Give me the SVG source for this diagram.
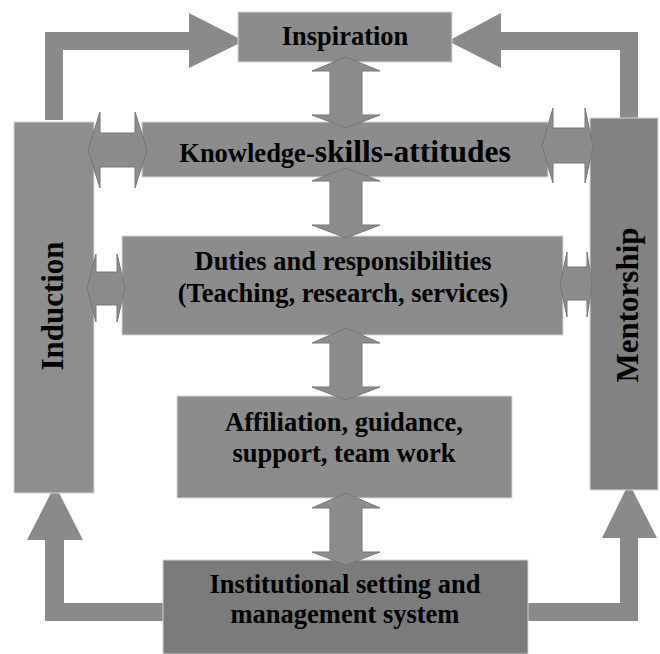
<svg xmlns="http://www.w3.org/2000/svg" width="660" height="654" viewBox="0 0 660 654">
<style>
.box{fill:#8c8c8c;stroke:#d6d6d6;stroke-width:1}
.dark{fill:#7b7b7b}
.mid{fill:#828282}
.conn{fill:#8a8a8a}
.dbl{fill:#8c8c8c;stroke:#777;stroke-width:1}
.t{font-family:"Liberation Serif","Times New Roman",serif;font-weight:bold;fill:#000;text-anchor:middle}
</style>
<rect width="660" height="654" fill="#fff"/>
<g id="connectors-outer">
<path class="conn" d="M45,120 L45,32 L189,32 L189,13 L244,41 L189,68 L189,50 L63,50 L63,120 Z"/>
<path class="conn" d="M638,118 L638,32 L501,32 L501,13 L448,41 L501,68 L501,50 L620,50 L620,118 Z"/>
<path class="conn" d="M170,603 L64,603 L64,540 L83,540 L55,485 L27,540 L45,540 L45,621 L170,621 Z"/>
<path class="conn" d="M523,603 L620,603 L620,538 L602,538 L629,483 L657,538 L638,538 L638,621 L523,621 Z"/>
</g>
<g id="inspiration">
<rect class="box" x="238" y="12" width="214" height="50"/>
<text class="t" x="345" y="45" font-size="26.5">Inspiration</text>
</g>
<g id="knowledge">
<rect class="box" x="142" y="122" width="406" height="55"/>
<text class="t" x="345" y="162"><tspan font-size="26.5">Knowledge-</tspan><tspan font-size="31.5">skills-attitudes</tspan></text>
</g>
<g id="duties">
<rect class="box" x="122" y="236" width="441" height="99"/>
<text class="t" x="343" y="270" font-size="26.5">Duties and responsibilities</text>
<text class="t" x="343" y="302" font-size="26.5">(Teaching, research, services)</text>
</g>
<g id="affiliation">
<rect class="box" x="177" y="396" width="335" height="102"/>
<text class="t" x="344" y="431" font-size="26.5">Affiliation, guidance,</text>
<text class="t" x="344" y="462" font-size="26.5">support, team work</text>
</g>
<g id="institutional">
<rect class="box dark" x="163" y="560" width="365" height="94"/>
<text class="t" x="345" y="593" font-size="26.5">Institutional setting and</text>
<text class="t" x="345" y="623" font-size="26.5">management system</text>
</g>
<g id="induction">
<rect class="box" x="14" y="122" width="80" height="371" style="fill:#8f8f8f"/>
<text class="t" x="63" y="306" font-size="31" transform="rotate(-90 63 306)">Induction</text>
</g>
<g id="mentorship">
<rect class="box mid" x="590" y="118" width="68" height="372"/>
<text class="t" x="638" y="305" font-size="31" transform="rotate(-90 638 305)">Mentorship</text>
</g>
<g id="connectors">
<path class="dbl" d="M346,57 L380,71 L362,71 L362,115 L380,115 L346,128 L312,115 L330,115 L330,71 L312,71 Z"/>
<path class="dbl" d="M346,168 L380,181 L362,181 L362,225 L380,225 L346,238 L312,225 L330,225 L330,181 L312,181 Z"/>
<path class="dbl" d="M346,328 L380,343 L362,343 L362,387 L380,387 L346,400 L312,387 L330,387 L330,343 L312,343 Z"/>
<path class="dbl" d="M346,493 L380,508 L362,508 L362,552 L380,552 L346,565 L312,552 L330,552 L330,508 L312,508 Z"/>
<path class="dbl" d="M88,150 L100,112 L100,133 L135,133 L135,112 L147,150 L135,188 L135,167 L100,167 L100,188 Z"/>
<path class="dbl" d="M87,288 L96,254 L96,272 L117,272 L117,254 L125,288 L117,322 L117,305 L96,305 L96,322 Z"/>
<path class="dbl" d="M542,146 L553,108 L553,128 L585,128 L585,108 L593,146 L585,183 L585,163 L553,163 L553,183 Z"/>
<path class="dbl" d="M560,284 L567,252 L567,267 L587,267 L587,252 L592,284 L587,317 L587,300 L567,300 L567,317 Z"/>
</g>
</svg>
